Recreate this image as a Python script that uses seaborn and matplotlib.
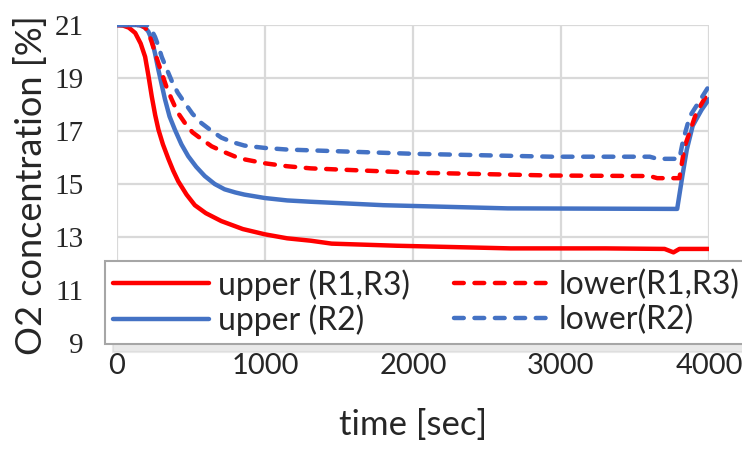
import numpy as np
import matplotlib
matplotlib.use("Agg")
import matplotlib.pyplot as plt
import seaborn as sns

# time [sec] and O2 concentration [%]
T_UPPER_R13 = [0, 40, 80, 123, 160, 190, 212, 235, 258, 280, 310, 347, 380, 414, 470, 526, 600,
               705, 850, 1000, 1150, 1309, 1450, 1890, 2660, 3300, 3700, 3760, 3800, 3900, 4000]
O2_UPPER_R13 = [21.0, 20.98, 20.9, 20.7, 20.3, 19.8, 19.1, 18.3, 17.6, 17.05, 16.5, 15.95, 15.5,
                15.1, 14.6, 14.2, 13.9, 13.6, 13.3, 13.1, 12.95, 12.86, 12.75, 12.67, 12.57,
                12.57, 12.55, 12.42, 12.55, 12.55, 12.55]

T_UPPER_R2 = [0, 150, 190, 212, 235, 258, 280, 302, 324, 355, 391, 435, 481, 535, 593, 660, 727,
              800, 861, 1000, 1150, 1309, 1800, 2640, 3785, 3820, 3850, 3890, 3950, 4000]
O2_UPPER_R2 = [21.0, 21.0, 20.9, 20.75, 20.45, 19.9, 19.3, 18.75, 18.2, 17.55, 17.05, 16.5, 16.05,
               15.65, 15.3, 15.0, 14.8, 14.68, 14.6, 14.47, 14.38, 14.33, 14.2, 14.08, 14.06,
               15.3, 16.3, 17.2, 17.8, 18.2]

T_LOWER_R13 = [0, 160, 190, 213, 235, 257, 280, 302, 335, 369, 410, 459, 510, 570, 640, 727, 800,
               861, 1000, 1150, 1309, 2000, 2935, 3600, 3650, 3800, 3835, 3915, 4000]
O2_LOWER_R13 = [21.0, 21.0, 20.9, 20.7, 20.35, 19.95, 19.55, 19.2, 18.65, 18.2, 17.7, 17.3, 16.95,
                16.7, 16.42, 16.2, 16.03, 15.93, 15.78, 15.67, 15.59, 15.43, 15.32, 15.3, 15.22,
                15.22, 16.4, 17.7, 18.5]

T_LOWER_R2 = [0, 200, 230, 257, 280, 302, 335, 369, 410, 459, 510, 570, 640, 705, 780, 861, 1000,
              1150, 1309, 2000, 2935, 3600, 3650, 3800, 3825, 3870, 4000]
O2_LOWER_R2 = [21.0, 21.0, 20.85, 20.55, 20.2, 19.8, 19.35, 18.9, 18.45, 18.05, 17.65, 17.3, 17.0,
               16.75, 16.58, 16.45, 16.36, 16.3, 16.27, 16.14, 16.03, 16.03, 15.95, 15.95, 16.65,
               17.55, 18.7]

LABELS = ['upper (R1,R3)', 'upper (R2)', 'lower(R1,R3)', 'lower(R2)']
X_TICKS = [0, 1000, 2000, 3000, 4000]
Y_TICKS = [9, 11, 13, 15, 17, 19, 21]

RED = '#ff0000'
BLUE = '#4472c4'
DASH = (0, (2.2, 2.4))

sns.set_theme(style='whitegrid')
plt.rcParams['font.family'] = ['Lato', 'DejaVu Sans']

W, H = 742, 449
fig = plt.figure(figsize=(W / 100, H / 100), dpi=100)
ax = fig.add_axes([117 / W, 1 - 343 / H, 592 / W, 318 / H])

series = [
    (T_UPPER_R13, O2_UPPER_R13, RED, '-'),
    (T_UPPER_R2, O2_UPPER_R2, BLUE, '-'),
    (T_LOWER_R13, O2_LOWER_R13, RED, DASH),
    (T_LOWER_R2, O2_LOWER_R2, BLUE, DASH),
]
for (t, v, c, ls), lab in zip(series, LABELS):
    sns.lineplot(x=t, y=v, ax=ax, color=c, lw=3.2, linestyle=ls, label=lab,
                 sort=False, dash_capstyle='round')

ax.set_xlim(0, 4000)
ax.set_ylim(9, 21)
ax.set_xticks(X_TICKS)
ax.set_yticks(Y_TICKS)
ax.set_facecolor('white')
ax.grid(True, color='#d9d9d9', lw=1.6)
for s in ax.spines.values():
    s.set_visible(False)
ax.tick_params(length=0)
ax.tick_params(axis='x', pad=7, labelsize=21, labelcolor='#262626')
ax.tick_params(axis='y', pad=24, labelsize=21, labelcolor='#262626')
for lbl in ax.get_yticklabels():
    lbl.set_fontfamily('Liberation Serif')
ax.set_xlabel('')
ax.set_ylabel('')

fig.text(31 / W, 1 - 185 / H, 'O2 concentration [%]', rotation=90, ha='center', va='center',
         fontsize=26, color='#262626')
fig.text(413 / W, 1 - 425 / H, 'time [sec]', ha='center', va='center', fontsize=25,
         color='#262626')

leg = ax.legend(ncol=2, loc='upper left', mode='expand',
                bbox_to_anchor=(105 / W, 1 - 261 / H, (748 - 105) / W, 0),
                bbox_transform=fig.transFigure, borderaxespad=0, fontsize=23,
                handlelength=3.0, handletextpad=0.3, labelspacing=0.12, borderpad=0.25,
                fancybox=False, framealpha=1, edgecolor='#a6a6a6',
                shadow={'ox': 6, 'oy': -6, 'color': '#d4d4d4'})
leg.get_frame().set_linewidth(1.5)
for txt in leg.get_texts():
    txt.set_color('#262626')

fig.savefig('out.png', dpi=100)
